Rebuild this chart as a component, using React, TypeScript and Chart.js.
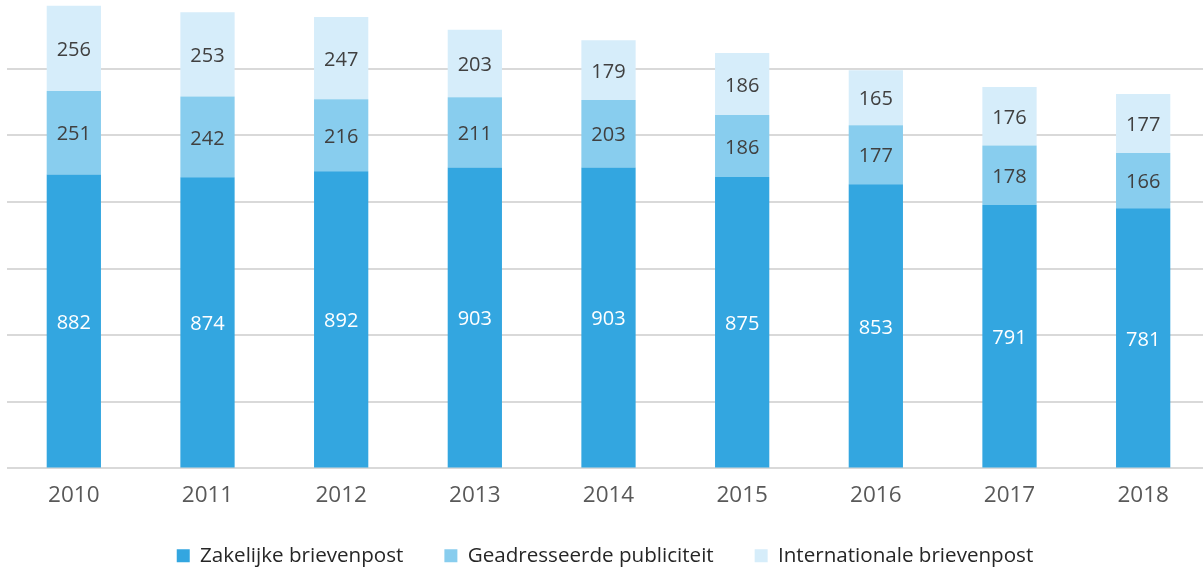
import React, { useEffect, useRef } from "react";
import { Chart, registerables } from "chart.js";

Chart.register(...registerables);

const categories = ["2010", "2011", "2012", "2013", "2014", "2015", "2016", "2017", "2018"];
const zakelijke = [882, 874, 892, 903, 903, 875, 853, 791, 781];
const geadresseerde = [251, 242, 216, 211, 203, 186, 177, 178, 166];
const internationale = [256, 253, 247, 203, 179, 186, 165, 176, 177];
const seriesNames = ["Zakelijke brievenpost", "Geadresseerde publiciteit", "Internationale brievenpost"];
const colors = ["#33A6E0", "#88CDEE", "#D6EDFA"];
const labelColors = ["#FFFFFF", "#404040", "#404040"];

const FONT = "'Open Sans', sans-serif";
const CANVAS_W = 1210;
const CANVAS_H = 572;

const valueLabels = {
  id: "valueLabels",
  afterDatasetsDraw(chart: any) {
    const ctx = chart.ctx;
    ctx.save();
    ctx.font = `20px ${FONT}`;
    ctx.textAlign = "center";
    ctx.textBaseline = "middle";
    chart.data.datasets.forEach((ds: any, di: number) => {
      const meta = chart.getDatasetMeta(di);
      meta.data.forEach((el: any, i: number) => {
        const y = (el.y + el.base) / 2 + 2;
        ctx.fillStyle = labelColors[di];
        ctx.fillText(String(ds.data[i]), el.x, y);
      });
    });
    ctx.restore();
  },
};

export default function App() {
  const ref = useRef<HTMLCanvasElement>(null);
  useEffect(() => {
    document.body.style.margin = "0";
    const chart = new Chart(ref.current as HTMLCanvasElement, {
      type: "bar",
      data: {
        labels: categories,
        datasets: [zakelijke, geadresseerde, internationale].map((d, i) => ({
          label: seriesNames[i],
          data: d,
          backgroundColor: colors[i],
          borderWidth: 0,
          barPercentage: 0.406,
          categoryPercentage: 1,
        })),
      },
      options: {
        animation: false,
        responsive: false,
        maintainAspectRatio: false,
        layout: { padding: { left: 0, right: 0, top: 2, bottom: -4 } },
        plugins: {
          tooltip: { enabled: false },
          legend: {
            position: "bottom",
            labels: {
              boxWidth: 13,
              boxHeight: 13,
              padding: 41,
              color: "#262626",
              font: { family: FONT, size: 20.6 },
            },
          },
        },
        scales: {
          x: {
            stacked: true,
            grid: { display: false, drawTicks: false },
            border: { display: false },
            ticks: { color: "#595959", font: { family: FONT, size: 22.5 }, padding: 14 },
            afterFit: (s: any) => {
              s.height = 36;
            },
          },
          y: {
            stacked: true,
            min: 0,
            max: 1400,
            border: { display: false },
            ticks: { display: false, stepSize: 200 },
            grid: {
              drawTicks: false,
              lineWidth: 2,
              color: (c: any) => (c.tick && c.tick.value >= 1400 ? "rgba(0,0,0,0)" : "#D9D9D9"),
            },
            afterFit: (s: any) => {
              s.width = 7;
            },
          },
        },
      },
      plugins: [valueLabels],
    });
    return () => chart.destroy();
  }, []);
  return (
    <div style={{ position: "absolute", left: 0, top: 0, width: 1203, height: CANVAS_H, overflow: "hidden" }}>
      <canvas ref={ref} width={CANVAS_W} height={CANVAS_H} style={{ width: CANVAS_W, height: CANVAS_H, display: "block" }} />
    </div>
  );
}
